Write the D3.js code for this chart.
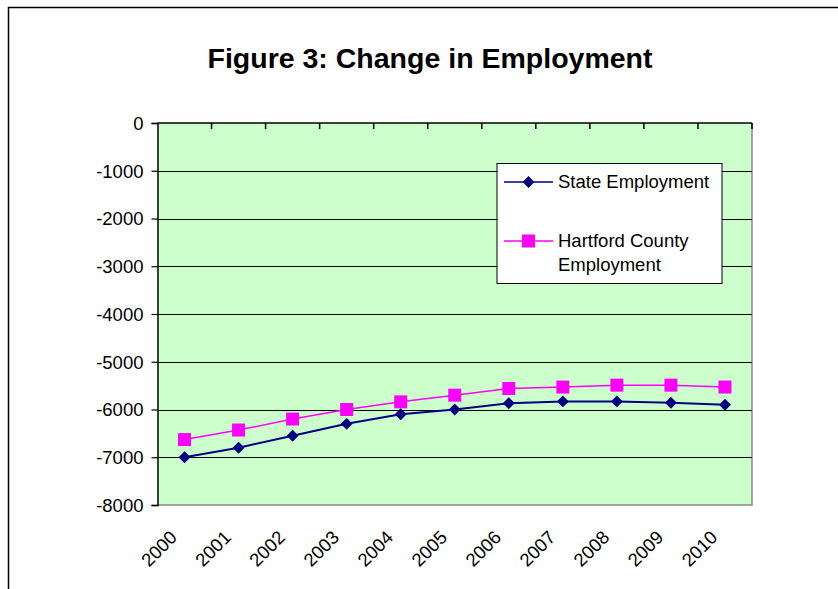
<!DOCTYPE html>
<html>
<head>
<meta charset="utf-8">
<script src="https://cdn.jsdelivr.net/npm/d3@7"></script>
<style>
  body { margin: 0; background: #fff; }
  text { font-family: Arial, "Liberation Sans", sans-serif; fill: #000; }
</style>
</head>
<body>
<svg id="chart" width="838" height="589"></svg>
<script>
// data
var years = ["2000", "2001", "2002", "2003", "2004", "2005", "2006", "2007", "2008", "2009", "2010"]
var stateEmployment = [-7000, -6800, -6550, -6300, -6100, -6000, -5870, -5830, -5830, -5860, -5900]
var hartfordEmployment = [-6630, -6430, -6200, -6000, -5840, -5700, -5560, -5530, -5490, -5490, -5530]
var yTicks = [0, -1000, -2000, -3000, -4000, -5000, -6000, -7000, -8000]
var seriesNames = ["State Employment", "Hartford County Employment"]

var svg = d3.select("#chart")
var plotL = 157.5, plotR = 752, plotT = 123, plotB = 505
var fs = "18.5px"

var x = d3.scaleBand().domain(years).range([plotL, plotR])
var y = d3.scaleLinear().domain([-8000, 0]).range([plotB, plotT])

// outer chart border (only top and left visible)
svg.append("path")
    .attr("d", "M8.5,589 V7.5 H838")
    .attr("fill", "none")
    .attr("stroke", "#000")
    .attr("stroke-width", 1.5)

///////
svg.append("text")
    .attr("x", 430)
    .attr("y", 68)
    .attr("text-anchor", "middle")
    .style("font-size", "28.5px")
    .style("font-weight", "bold")
    .text("Figure 3: Change in Employment")

// plot area
svg.append("rect")
    .attr("x", plotL).attr("y", plotT)
    .attr("width", plotR - plotL).attr("height", plotB - plotT)
    .attr("fill", "#ccffcc")

// shadow edges right / bottom
svg.append("path")
    .attr("d", "M" + plotR + "," + plotT + " V" + plotB + " H" + plotL)
    .attr("fill", "none")
    .attr("stroke", "#888")
    .attr("stroke-width", 1.5)

// gridlines
svg.append("g").selectAll("line")
    .data(yTicks.filter(d => d !== 0 && d !== -8000))
    .enter().append("line")
    .attr("x1", plotL).attr("x2", plotR)
    .attr("y1", d => Math.round(y(d)) + 0.5).attr("y2", d => Math.round(y(d)) + 0.5)
    .attr("stroke", "#000")
    .attr("stroke-width", 1)

// y axis (plain hyphen minus like the original)
var yAxis = svg.append("g")
    .attr("transform", "translate(" + plotL + ",0)")
    .call(d3.axisLeft(y).tickValues(yTicks).tickSize(6).tickPadding(8).tickFormat(d => String(d)))
yAxis.select(".domain").attr("stroke", "#000").attr("stroke-width", 1.5)
yAxis.selectAll("line").attr("stroke", "#000").attr("stroke-width", 1.2)
yAxis.selectAll("text").style("font-size", fs).attr("dy", "0.35em")

// category axis sits at 0 (top), ticks between categories pointing down
var catEdges = years.slice(1).map(d => x(d))
svg.append("line")
    .attr("x1", plotL).attr("x2", plotR)
    .attr("y1", plotT).attr("y2", plotT)
    .attr("stroke", "#000").attr("stroke-width", 1.5)
svg.append("g").selectAll("line")
    .data(catEdges.concat([plotR]))
    .enter().append("line")
    .attr("x1", d => d).attr("x2", d => d)
    .attr("y1", plotT).attr("y2", plotT + 6)
    .attr("stroke", "#000").attr("stroke-width", 1.5)

// x labels at bottom, rotated
svg.append("g").selectAll("text")
    .data(years)
    .enter().append("text")
    .attr("transform", d => "translate(" + (x(d) + x.bandwidth() / 2 - 11) + "," + (plotB + 29) + ")rotate(-45)")
    .attr("text-anchor", "end")
    .attr("dy", "0.35em")
    .style("font-size", fs)
    .text(d => d)

var cx = d => x(d) + x.bandwidth() / 2
var line = d3.line().x((d, i) => cx(years[i])).y(d => y(d))

// Hartford series
svg.append("path")
    .datum(hartfordEmployment)
    .attr("d", line)
    .attr("fill", "none")
    .attr("stroke", "#ff00ff")
    .attr("stroke-width", 1.5)
svg.append("g").selectAll("rect")
    .data(hartfordEmployment)
    .enter().append("rect")
    .attr("x", (d, i) => cx(years[i]) - 6.5)
    .attr("y", d => y(d) - 6.5)
    .attr("width", 13).attr("height", 13)
    .attr("fill", "#ff00ff")

// State series
svg.append("path")
    .datum(stateEmployment)
    .attr("d", line)
    .attr("fill", "none")
    .attr("stroke", "#000080")
    .attr("stroke-width", 2)
var diamond = d3.symbol().type(d3.symbolDiamond2).size(90)
svg.append("g").selectAll("path")
    .data(stateEmployment)
    .enter().append("path")
    .attr("d", diamond)
    .attr("transform", (d, i) => "translate(" + cx(years[i]) + "," + y(d) + ")")
    .attr("fill", "#000080")

// legend
var legend = svg.append("g")
legend.append("rect")
    .attr("x", 497).attr("y", 163.5)
    .attr("width", 225).attr("height", 120)
    .attr("fill", "#fff")
    .attr("stroke", "#000")
    .attr("stroke-width", 1)

legend.append("line")
    .attr("x1", 504).attr("x2", 553).attr("y1", 182).attr("y2", 182)
    .attr("stroke", "#000080").attr("stroke-width", 1.5)
legend.append("path")
    .attr("d", diamond)
    .attr("transform", "translate(528.5,182)")
    .attr("fill", "#000080")
legend.append("text")
    .attr("x", 558).attr("y", 182).attr("dy", "0.35em")
    .style("font-size", fs)
    .text(seriesNames[0])

legend.append("line")
    .attr("x1", 504).attr("x2", 553).attr("y1", 241).attr("y2", 241)
    .attr("stroke", "#ff00ff").attr("stroke-width", 1.5)
legend.append("rect")
    .attr("x", 522).attr("y", 234.5)
    .attr("width", 13).attr("height", 13)
    .attr("fill", "#ff00ff")
legend.append("text")
    .attr("x", 558).attr("y", 241).attr("dy", "0.35em")
    .style("font-size", fs)
    .text("Hartford County")
legend.append("text")
    .attr("x", 558).attr("y", 265).attr("dy", "0.35em")
    .style("font-size", fs)
    .text("Employment")
</script>
</body>
</html>
